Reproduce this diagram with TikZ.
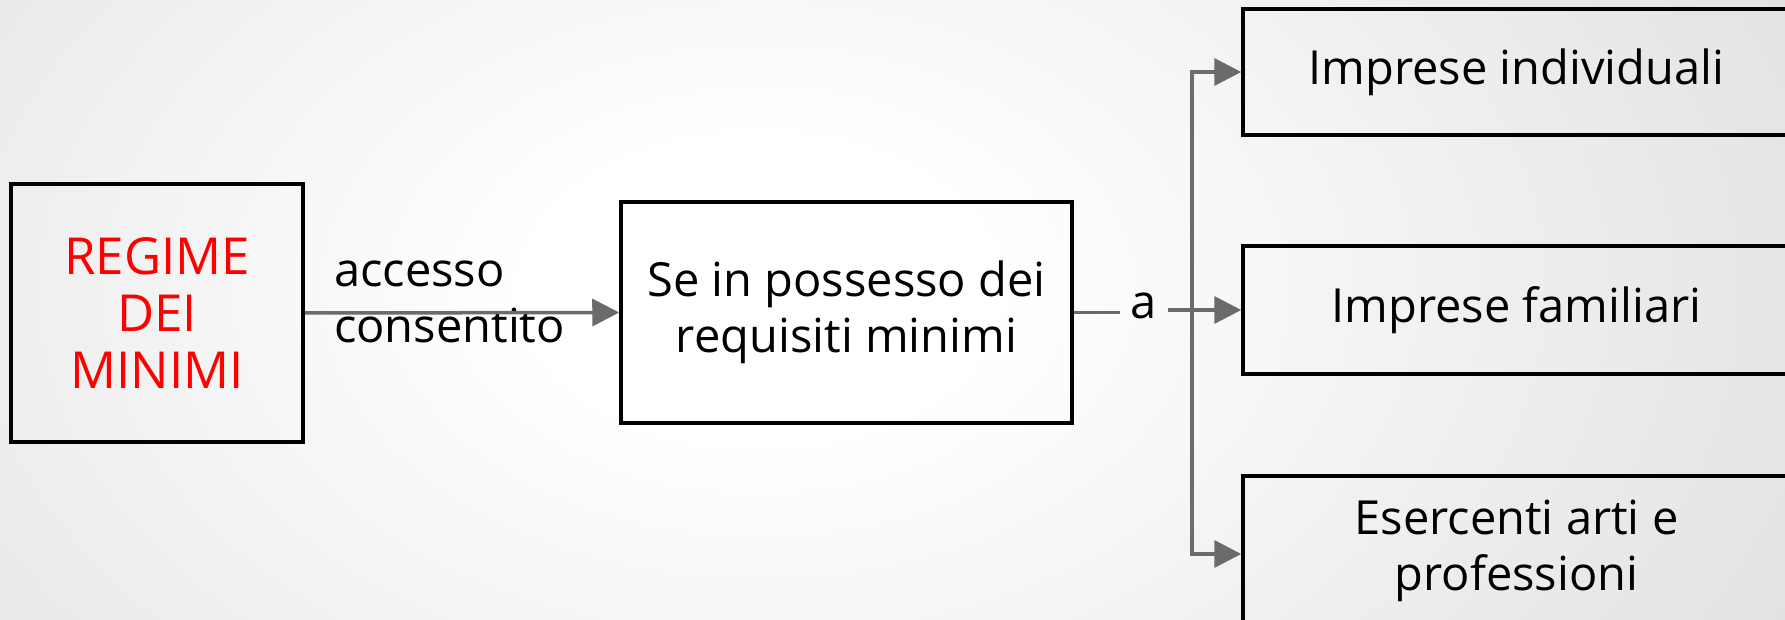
\documentclass[tikz,border=0pt]{standalone}
\usepackage{fontspec}
\setmainfont{Open Sans}
\usetikzlibrary{arrows.meta}
\definecolor{bggray}{HTML}{D2D2D2}
\definecolor{conn}{HTML}{6B6B6B}
\definecolor{txtred}{HTML}{FF0000}
\pgfdeclareradialshading{bgshade}{\pgfpoint{0bp}{0bp}}{color(0bp)=(white); color(5bp)=(white); color(36bp)=(bggray); color(50bp)=(bggray)}
\tikzset{
  box/.style={draw=black, line width=3.5pt, inner sep=0pt, align=center},
  big/.style={font=\fontsize{47}{56}\selectfont},
  conn/.style={draw=conn, line width=3.5pt},
  arr/.style={-{Triangle[length=27pt,width=27pt]}},
}
\begin{document}
\begin{tikzpicture}[x=1pt,y=-1pt]
\useasboundingbox (0,0) rectangle (1785,620);
\begin{scope}
\clip (0,0) rectangle (1785,620);
\shade[shading=bgshade] (-390,-460) rectangle (1910,1040);

\node[box, font=\fontsize{51}{57}\selectfont, text=txtred, minimum width=292pt, minimum height=258pt] (reg) at (157,313) {REGIME\\DEI\\MINIMI};
\node[box, big, minimum width=451pt, minimum height=221pt] (mid) at (846.5,312.5) {Se in possesso dei\\requisiti minimi};

\node[box, big, minimum width=547pt, minimum height=126pt] (b1) at (1516.5,72) {Imprese individuali};
\node[box, big, minimum width=547pt, minimum height=128pt] (b2) at (1516.5,310) {Imprese familiari};
\node[box, big, minimum width=547pt, minimum height=150pt] (b3) at (1516.5,551) {Esercenti arti e\\professioni};

\node[big, anchor=west, align=left, inner sep=0pt] (acc) at (334,302) {accesso\\consentito};
\node[big, inner xsep=11pt, inner ysep=0pt] (a) at (1144,306) {a};

\draw[conn, arr] (reg.east) -- (mid.west);
\draw[conn] (mid.east) -- (mid.east -| a.west);
\coordinate (j) at (1192,310);
\draw[conn, arr] (a.east |- j) -- (j -| b2.west);
\draw[conn, arr] (j) |- (b1.west);
\draw[conn, arr] (j) |- ([yshift=-3pt]b3.west);
\end{scope}
\end{tikzpicture}
\end{document}
